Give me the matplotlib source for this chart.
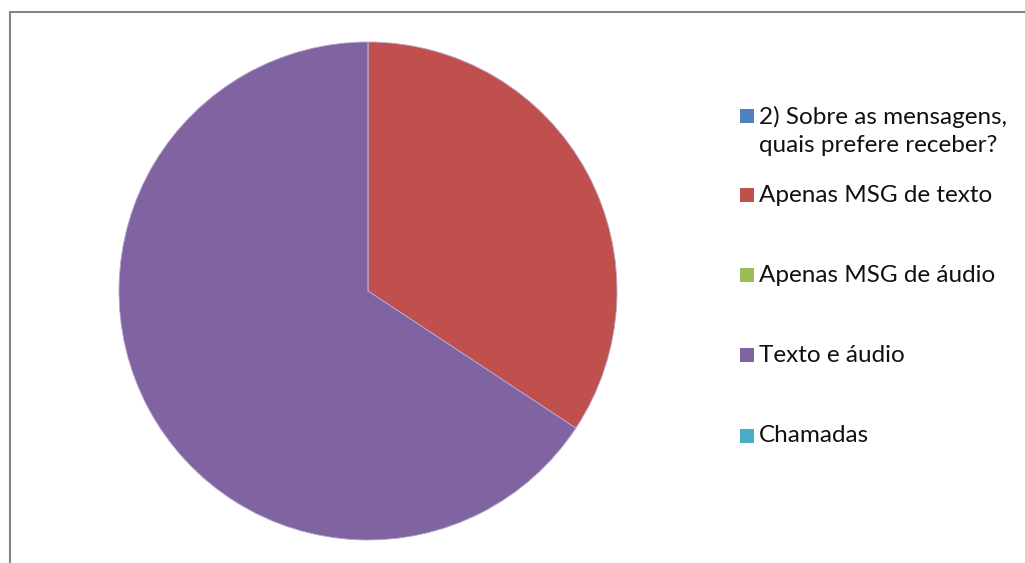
import matplotlib.pyplot as plt
from matplotlib.patches import Rectangle

# Dados do gráfico de pizza
categorias = ['2) Sobre as mensagens,\nquais prefere receber?', 'Apenas MSG de texto',
              'Apenas MSG de áudio', 'Texto e áudio', 'Chamadas']
valores = [0, 12, 0, 23, 0]
cores = ['#4F81BD', '#C0504D', '#9BBB59', '#8064A2', '#4BACC6']

W, H = 1025, 563
fig = plt.figure(figsize=(W / 100, H / 100), dpi=100)
plt.rcParams['font.family'] = ['Lato', 'DejaVu Sans']

# moldura cinza do gráfico (sai pela direita e por baixo)
fig.add_artist(Rectangle((9.5 / W, -0.1), 1.2, 1 - 12.5 / H + 0.1, transform=fig.transFigure,
                         fill=False, edgecolor='#868686', linewidth=1.5))

# eixo da pizza: centro (368, 291), raio 249 px
cx, cy, r = 368, 291, 249
ax = fig.add_axes([(cx - r) / W, (H - cy - r) / H, 2 * r / W, 2 * r / H])
ax.pie(valores, colors=cores, startangle=90, counterclock=False, radius=1,
       wedgeprops=dict(edgecolor='#B9A6D0', linewidth=0.6))
ax.set_xlim(-1, 1)
ax.set_ylim(-1, 1)
ax.set_aspect('equal')
ax.axis('off')

# legenda manual (posições em pixels)
y_leg = [131, 195, 275, 355, 436]
q = 14
for cat, cor, y in zip(categorias, cores, y_leg):
    top = cat.count('\n') * 15
    fig.add_artist(Rectangle((740 / W, (H - (y - top) - q / 2) / H), q / W, q / H,
                             transform=fig.transFigure, facecolor=cor, edgecolor='none'))
    fig.text(759 / W, (H - y) / H, cat, fontsize=17.5, va='center', ha='left',
             color='#111111', linespacing=1.38)

fig.savefig('out.png', dpi=100)
